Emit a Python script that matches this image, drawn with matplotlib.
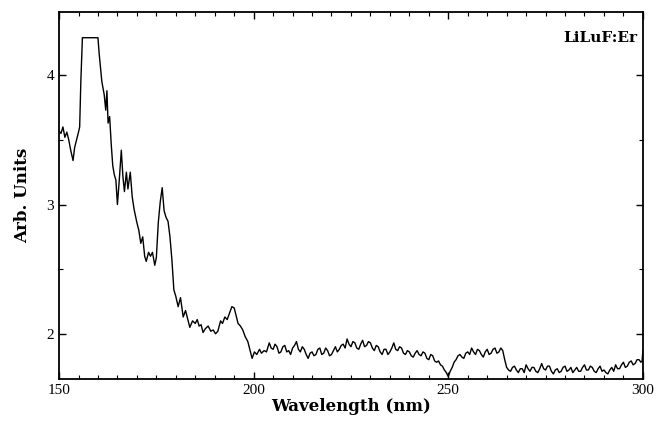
import matplotlib
matplotlib.use("Agg")
import matplotlib.pyplot as plt
from matplotlib.ticker import MultipleLocator

comprimento_inicio = [150, 150.5, 151, 151.5, 152, 152.5, 153, 153.6, 154, 154.5,
                      155, 155.3, 155.6, 156, 157, 158, 159, 160, 160.3, 161,
                      161.6, 162, 162.3, 162.6, 163, 163.4, 163.8, 164.2, 164.6, 165,
                      165.5, 166, 166.4, 166.8, 167.3, 167.7, 168.3, 168.8, 169.3, 170,
                      170.5, 171, 171.5, 172, 172.4, 173, 173.5, 174, 174.6, 175,
                      175.5, 176, 176.5, 177, 177.5, 178, 178.5, 179, 179.5, 180,
                      180.6, 181.2, 181.9, 182.5, 183, 183.6, 184.3, 185, 185.5, 186,
                      186.5, 187, 187.6, 188.3, 189, 189.6, 190.2, 190.8, 191.5, 192,
                      192.6, 193.2, 193.8, 194.4, 195, 195.5, 196, 196.6, 197.2, 197.8,
                      198.5, 199, 199.6, 200.2, 200.8, 201.5, 202, 202.7, 203.3]
sinal_inicio = [3.57, 3.55, 3.60, 3.52, 3.56, 3.50, 3.42, 3.34, 3.44, 3.50,
                3.56, 3.60, 3.95, 4.29, 4.29, 4.29, 4.29, 4.29, 4.17, 3.95,
                3.85, 3.73, 3.88, 3.63, 3.68, 3.47, 3.30, 3.23, 3.19, 3.00,
                3.20, 3.42, 3.22, 3.10, 3.25, 3.12, 3.25, 3.06, 2.96, 2.86,
                2.80, 2.70, 2.75, 2.60, 2.56, 2.63, 2.60, 2.63, 2.53, 2.59,
                2.86, 3.02, 3.13, 2.95, 2.90, 2.87, 2.75, 2.57, 2.34, 2.29,
                2.21, 2.28, 2.13, 2.18, 2.12, 2.05, 2.10, 2.08, 2.11, 2.06,
                2.07, 2.01, 2.04, 2.06, 2.02, 2.03, 2.00, 2.02, 2.10, 2.08,
                2.13, 2.11, 2.16, 2.21, 2.20, 2.14, 2.08, 2.06, 2.03, 1.98,
                1.94, 1.88, 1.81, 1.86, 1.84, 1.88, 1.85, 1.87, 1.86]

comprimento_fim = [x / 2 for x in range(408, 600)] + [299.8, 300]
sinal_fim = [1.93, 1.89, 1.88, 1.92, 1.90, 1.85, 1.86, 1.90, 1.91, 1.86,
             1.87, 1.84, 1.89, 1.91, 1.94, 1.88, 1.86, 1.90, 1.88, 1.84,
             1.81, 1.85, 1.86, 1.83, 1.84, 1.88, 1.89, 1.84, 1.85, 1.89,
             1.87, 1.83, 1.84, 1.87, 1.90, 1.86, 1.88, 1.91, 1.92, 1.89,
             1.96, 1.92, 1.90, 1.94, 1.93, 1.89, 1.88, 1.92, 1.95, 1.90,
             1.91, 1.94, 1.93, 1.89, 1.87, 1.91, 1.90, 1.86, 1.84, 1.88,
             1.88, 1.84, 1.86, 1.89, 1.93, 1.88, 1.87, 1.90, 1.89, 1.85,
             1.84, 1.87, 1.86, 1.83, 1.82, 1.85, 1.87, 1.84, 1.83, 1.86,
             1.85, 1.81, 1.80, 1.84, 1.83, 1.79, 1.78, 1.79, 1.76, 1.75,
             1.72, 1.70, 1.67, 1.71, 1.74, 1.78, 1.80, 1.83, 1.84, 1.82,
             1.81, 1.85, 1.86, 1.84, 1.89, 1.86, 1.84, 1.88, 1.87, 1.84,
             1.82, 1.86, 1.88, 1.84, 1.85, 1.88, 1.89, 1.85, 1.86, 1.89,
             1.87, 1.80, 1.74, 1.72, 1.71, 1.74, 1.75, 1.72, 1.70, 1.73,
             1.73, 1.70, 1.76, 1.73, 1.71, 1.74, 1.74, 1.71, 1.70, 1.73,
             1.77, 1.73, 1.72, 1.75, 1.75, 1.71, 1.69, 1.72, 1.73, 1.70,
             1.71, 1.74, 1.75, 1.71, 1.72, 1.74, 1.70, 1.72, 1.74, 1.71,
             1.71, 1.74, 1.76, 1.72, 1.72, 1.75, 1.74, 1.71, 1.70, 1.73,
             1.75, 1.71, 1.72, 1.70, 1.69, 1.72, 1.74, 1.71, 1.76, 1.73,
             1.73, 1.76, 1.78, 1.74, 1.75, 1.78, 1.79, 1.76, 1.77, 1.80,
             1.80, 1.78, 1.79, 1.87]

comprimento = comprimento_inicio + comprimento_fim
sinal = sinal_inicio + sinal_fim

fig = plt.figure(figsize=(6.56, 4.24), dpi=100)
ax = fig.add_axes([0.090, 0.106, 0.890, 0.866])
ax.plot(comprimento, sinal, color='black', linewidth=1.0)

ax.set_xlim(150, 300)
ax.set_ylim(1.65, 4.49)
ax.xaxis.set_major_locator(MultipleLocator(50))
ax.xaxis.set_minor_locator(MultipleLocator(5))
ax.yaxis.set_major_locator(MultipleLocator(1))
ax.yaxis.set_minor_locator(MultipleLocator(0.5))
ax.tick_params(which='both', direction='in', top=True, right=True)
ax.tick_params(which='major', length=5, width=1)
ax.tick_params(which='minor', length=3, width=0.8)
for rotulo in ax.get_xticklabels() + ax.get_yticklabels():
    rotulo.set_family('Liberation Serif')
    rotulo.set_fontsize(11)
for lado in ax.spines.values():
    lado.set_linewidth(1.3)

ax.set_xlabel('Wavelength (nm)', family='DejaVu Serif', fontweight='bold', fontsize=12, labelpad=1)
ax.set_ylabel('Arb. Units', family='DejaVu Serif', fontweight='bold', fontsize=12, labelpad=11)
ax.text(0.99, 0.93, 'LiLuF:Er', transform=ax.transAxes, ha='right', va='center',
        family='DejaVu Serif', fontweight='bold', fontsize=11)

fig.savefig('out.png', dpi=100)
